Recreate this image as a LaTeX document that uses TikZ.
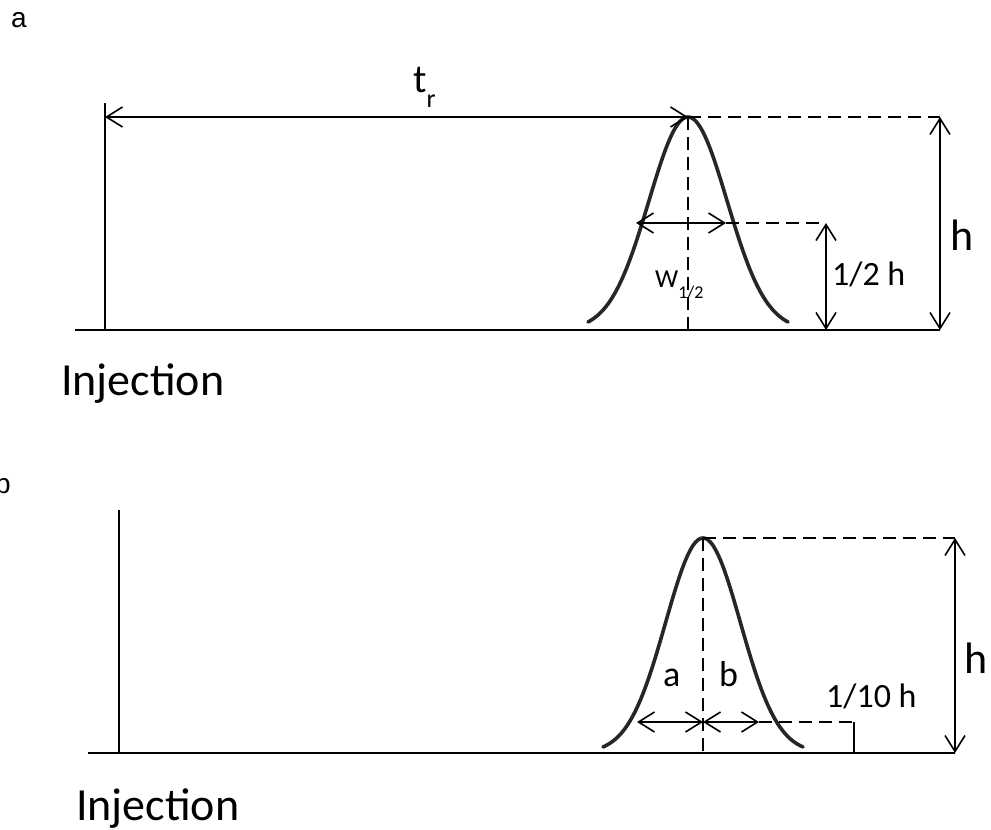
\documentclass[tikz,border=0pt]{standalone}
\usepackage{fontspec}
\setmainfont{Carlito}
\newfontfamily\arialfont{Liberation Sans}
\usetikzlibrary{arrows.meta}
\tikzset{
  axisline/.style={line width=2pt},
  dimarrow/.style={line width=1.8pt,{Straight Barb[length=16pt,width=20pt,line width=1.6pt]}-{Straight Barb[length=16pt,width=20pt,line width=1.6pt]}},
  guide/.style={line width=2pt,dash pattern=on 13pt off 7pt},
  peakcurve/.style={line width=3.6pt,black!85,line join=round,line cap=round},
  lbl/.style={inner sep=0pt,anchor=base west}
}
\begin{document}
\begin{tikzpicture}[x=1pt,y=-1pt]
\useasboundingbox (0,0) rectangle (991,830);
% ---------------- panel a ----------------
\coordinate (a0) at (75,330);
\coordinate (a1) at (940,330);
\coordinate (ayT) at (105,103);
\coordinate (ayB) at (105,330);
\coordinate (atr) at (105,117);
\coordinate (apk) at (688,117);
\coordinate (apkB) at (688,330);
\coordinate (ahT) at (940,117);
\coordinate (ahB) at (940,330);
\coordinate (awl) at (636,223);
\coordinate (awr) at (726,223);
\coordinate (awd) at (826,223);
\coordinate (ahalfB) at (826,330);

\draw[axisline] (a0) -- (a1);
\draw[axisline] (ayT) -- (ayB);
\draw[peakcurve] plot[domain=-100:100,samples=81,smooth] ({688+\x},{330-213*exp(-(\x*\x)/3050)});
\draw[guide] (apk) -- (apkB);
\draw[guide] (apk) -- (ahT);
\draw[guide] (awr) -- (awd);
\draw[dimarrow] (atr) -- (apk);
\draw[dimarrow] (awl) -- (awr);
\draw[dimarrow] (awd) -- (ahalfB);
\draw[dimarrow] (ahT) -- (ahB);

\node[lbl,font=\arialfont\fontsize{28}{28}\selectfont] (labA) at (11,27) {a};
\node[lbl] (tr) at (413,92) {\fontsize{40}{40}\selectfont t\raisebox{-15pt}{\fontsize{26}{26}\selectfont r}};
\node[lbl,font=\fontsize{44}{44}\selectfont] (hA) at (950,250) {h};
\node[lbl,font=\fontsize{34}{34}\selectfont] (halfh) at (832,285) {1/2 h};
\node[lbl] (w) at (655,287) {\fontsize{26}{26}\selectfont W\raisebox{-11pt}{\fontsize{18}{18}\selectfont 1/2}};
\node[lbl,font=\fontsize{46}{46}\selectfont] (injA) at (61,395) {Injection};

% ---------------- panel b ----------------
\coordinate (b0) at (88,753);
\coordinate (b1) at (955,753);
\coordinate (byT) at (119,510);
\coordinate (byB) at (119,753);
\coordinate (bpk) at (703,538);
\coordinate (bpkB) at (703,753);
\coordinate (bpkM) at (703,722);
\coordinate (bhT) at (955,538);
\coordinate (bhB) at (955,753);
\coordinate (bal) at (637,722);
\coordinate (bbr) at (759,722);
\coordinate (btk) at (854,722);
\coordinate (btkB) at (854,753);

\draw[axisline] (b0) -- (b1);
\draw[axisline] (byT) -- (byB);
\draw[peakcurve] plot[domain=-100:100,samples=81,smooth] ({703+\x},{753-215*exp(-(\x*\x)/2800)});
\draw[guide] (bpk) -- (bpkB);
\draw[guide] (bpk) -- (bhT);
\draw[guide] (bbr) -- (btk);
\draw[axisline] (btk) -- (btkB);
\draw[dimarrow] (bal) -- (bpkM);
\draw[dimarrow] (bpkM) -- (bbr);
\draw[dimarrow] (bhT) -- (bhB);

\node[lbl,font=\arialfont\fontsize{28}{28}\selectfont] (labB) at (-5,493) {b};
\node[lbl,font=\fontsize{36}{36}\selectfont] (la) at (663,686) {a};
\node[lbl,font=\fontsize{36}{36}\selectfont] (lb) at (719,686) {b};
\node[lbl,font=\fontsize{34}{34}\selectfont] (tenth) at (826,707) {1/10 h};
\node[lbl,font=\fontsize{44}{44}\selectfont] (hB) at (964,673) {h};
\node[lbl,font=\fontsize{46}{46}\selectfont] (injB) at (76,820) {Injection};
\end{tikzpicture}
\end{document}
